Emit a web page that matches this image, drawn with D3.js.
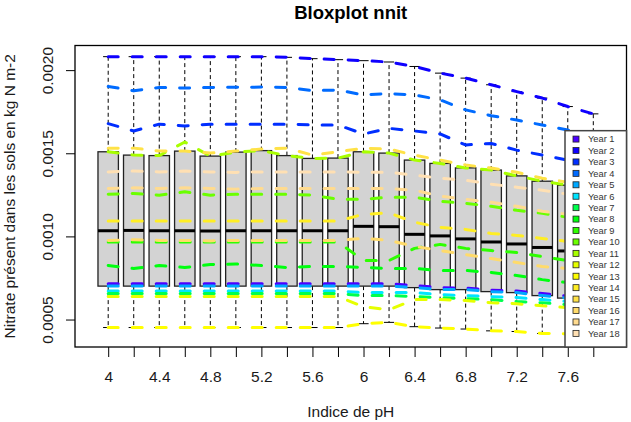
<!DOCTYPE html>
<html>
<head>
<meta charset="utf-8">
<script src="https://cdn.jsdelivr.net/npm/d3@7"></script>
<style>
body { margin: 0; background: #fff; }
text { font-family: "Liberation Sans", Arial, Helvetica, sans-serif; }
</style>
</head>
<body>
<div class="canvas"></div>
<script>
// pH classes (one box per class)
const phLevels = [4, 4.2, 4.4, 4.6, 4.8, 5, 5.2, 5.4, 5.6, 5.8, 6, 6.2, 6.4, 6.6, 6.8, 7, 7.2, 7.4, 7.6, 7.8];

// nitrate in soils (kg N m-2), one value per pH class
const year1  = [0.000716, 0.000716, 0.000716, 0.000716, 0.000716, 0.000716, 0.000716, 0.000716, 0.000716, 0.000716, 0.000716, 0.000716, 0.000704, 0.000692, 0.000689, 0.000677, 0.000671, 0.000656, 0.000641, 0.000626];
const year2  = [0.002081, 0.002081, 0.002081, 0.002081, 0.002081, 0.002081, 0.002081, 0.002077, 0.002069, 0.002063, 0.002057, 0.002049, 0.002022, 0.001982, 0.001952, 0.001912, 0.001871, 0.001832, 0.001781, 0.001737];
const year3  = [0.001678, 0.001634, 0.001675, 0.001664, 0.001675, 0.001675, 0.001675, 0.001675, 0.001670, 0.001670, 0.001616, 0.001650, 0.001634, 0.001616, 0.001550, 0.001559, 0.001519, 0.001489, 0.001459, 0.001429];
const year4  = [0.001902, 0.001876, 0.001896, 0.001892, 0.001896, 0.001897, 0.001898, 0.001896, 0.001877, 0.001880, 0.001851, 0.001859, 0.001851, 0.001821, 0.001761, 0.001726, 0.001700, 0.001670, 0.001640, 0.001610];
const year5  = [0.000701, 0.000701, 0.000701, 0.000701, 0.000701, 0.000701, 0.000701, 0.000701, 0.000701, 0.000701, 0.000701, 0.000701, 0.000692, 0.000680, 0.000680, 0.000668, 0.000662, 0.000644, 0.000629, 0.000614];
const year6  = [0.000671, 0.000671, 0.000671, 0.000671, 0.000671, 0.000671, 0.000671, 0.000671, 0.000671, 0.000671, 0.000662, 0.000662, 0.000662, 0.000650, 0.000644, 0.000638, 0.000632, 0.000620, 0.000608, 0.000595];
const year7  = [0.000656, 0.000656, 0.000656, 0.000656, 0.000656, 0.000656, 0.000656, 0.000656, 0.000656, 0.000656, 0.000644, 0.000644, 0.000638, 0.000632, 0.000626, 0.000620, 0.000608, 0.000601, 0.000589, 0.000577];
const year8  = [0.000825, 0.000807, 0.000825, 0.000813, 0.000831, 0.000834, 0.000825, 0.000813, 0.000819, 0.000819, 0.000813, 0.000807, 0.000807, 0.000795, 0.000795, 0.000783, 0.000765, 0.000740, 0.000722, 0.000704];
const year9  = [0.000966, 0.000966, 0.000966, 0.000966, 0.000966, 0.000966, 0.000966, 0.000966, 0.000966, 0.000966, 0.000855, 0.000855, 0.000928, 0.000952, 0.000928, 0.000915, 0.000903, 0.000879, 0.000855, 0.000837];
const year10 = [0.001254, 0.001258, 0.001248, 0.001268, 0.001248, 0.001254, 0.001254, 0.001254, 0.001248, 0.001223, 0.001223, 0.001236, 0.001236, 0.001211, 0.001199, 0.001181, 0.001157, 0.001139, 0.001115, 0.001097];
const year11 = [0.001509, 0.001489, 0.001486, 0.001568, 0.001483, 0.001507, 0.001516, 0.001486, 0.001469, 0.001471, 0.001509, 0.001501, 0.001459, 0.001439, 0.001412, 0.001399, 0.001364, 0.001332, 0.001308, 0.001290];
const year12 = [0.000638, 0.000638, 0.000638, 0.000638, 0.000638, 0.000638, 0.000638, 0.000638, 0.000638, 0.000638, 0.000577, 0.000559, 0.000620, 0.000620, 0.000614, 0.000601, 0.000595, 0.000583, 0.000571, 0.000559];
const year13 = [0.000452, 0.000452, 0.000452, 0.000452, 0.000452, 0.000452, 0.000452, 0.000452, 0.000452, 0.000452, 0.000475, 0.000483, 0.000457, 0.000449, 0.000443, 0.000432, 0.000428, 0.000416, 0.000414, 0.000402];
const year14 = [0.001092, 0.001092, 0.001092, 0.001092, 0.001092, 0.001092, 0.001092, 0.001092, 0.001092, 0.001092, 0.001133, 0.001141, 0.001085, 0.001054, 0.001042, 0.001018, 0.001006, 0.000988, 0.000970, 0.000952];
const year15 = [0.001530, 0.001531, 0.001513, 0.001513, 0.001501, 0.001513, 0.001525, 0.001531, 0.001489, 0.001509, 0.001530, 0.001525, 0.001489, 0.001459, 0.001429, 0.001411, 0.001386, 0.001350, 0.001326, 0.001302];
const year16 = [0.000976, 0.000980, 0.000976, 0.000976, 0.000973, 0.000976, 0.000976, 0.000976, 0.000976, 0.000976, 0.000988, 0.000976, 0.000940, 0.000915, 0.000891, 0.000867, 0.000843, 0.000819, 0.000807, 0.000789];
const year17 = [0.001288, 0.001292, 0.001288, 0.001292, 0.001288, 0.001284, 0.001288, 0.001288, 0.001288, 0.001288, 0.001288, 0.001288, 0.001278, 0.001242, 0.001223, 0.001205, 0.001181, 0.001151, 0.001133, 0.001115];
const year18 = [0.001388, 0.001393, 0.001388, 0.001393, 0.001388, 0.001385, 0.001388, 0.001388, 0.001388, 0.001388, 0.001386, 0.001386, 0.001368, 0.001350, 0.001338, 0.001314, 0.001296, 0.001278, 0.001254, 0.001236];

const years = [year1, year2, year3, year4, year5, year6, year7, year8, year9,
               year10, year11, year12, year13, year14, year15, year16, year17, year18];
const yearNames = ['Year 1', 'Year 2', 'Year 3', 'Year 4', 'Year 5', 'Year 6', 'Year 7', 'Year 8', 'Year 9',
                   'Year 10', 'Year 11', 'Year 12', 'Year 13', 'Year 14', 'Year 15', 'Year 16', 'Year 17', 'Year 18'];
// topo.colors(18)
const yearColors = ['#4C00FF', '#0F00FF', '#002EFF', '#006BFF', '#00A8FF', '#00E5FF',
                    '#00FF4D', '#00FF0F', '#2EFF00', '#6BFF00', '#A8FF00', '#E6FF00',
                    '#FFFF00', '#FFEE24', '#FFE247', '#FFDB6B', '#FFDB8F', '#FFE0B3'];
const yTicks = [0.0005, 0.0010, 0.0015, 0.0020];

const dims = { width: 631, height: 422 };
const plot = { left: 75, right: 626.5, top: 45.5, bottom: 347 };

const svg = d3.select('.canvas')
    .append('svg')
    .attr('width', dims.width)
    .attr('height', dims.height)
    .style('display', 'block');

svg.append('rect')
    .attr('width', dims.width)
    .attr('height', dims.height)
    .attr('fill', '#fff');

// R style five number summary
const fivenum = (vals) => {
    const s = vals.slice().sort(d3.ascending);
    const n = s.length;
    const n4 = Math.floor((n + 3) / 2) / 2;
    return [1, n4, (n + 1) / 2, n + 1 - n4, n]
        .map(p => 0.5 * (s[Math.floor(p) - 1] + s[Math.ceil(p) - 1]));
};

const stats = phLevels.map((ph, i) => {
    const vals = years.map(s => s[i]);
    const f = fivenum(vals);
    const iqr = f[3] - f[1];
    const inside = vals.filter(v => v >= f[1] - 1.5 * iqr && v <= f[3] + 1.5 * iqr);
    return {
        pos: i + 1,
        lo: d3.min(inside), q1: f[1], med: f[2], q3: f[3], hi: d3.max(inside),
        out: vals.filter(v => !inside.includes(v))
    };
});

// scales, padded 4% like R
const n = phLevels.length;
const xPad = 0.04 * n;
const x = d3.scaleLinear()
    .domain([0.5 - xPad, n + 0.5 + xPad])
    .range([plot.left, plot.right]);

const yMin = d3.min(stats, d => d3.min([d.lo, ...d.out]));
const yMax = d3.max(stats, d => d3.max([d.hi, ...d.out]));
const yPad = 0.04 * (yMax - yMin);
const y = d3.scaleLinear()
    .domain([yMin - yPad, yMax + yPad])
    .range([plot.bottom, plot.top]);

const half = 0.4 * (x(1) - x(0));
const staple = 0.2 * (x(1) - x(0));

// boxes
const boxes = svg.append('g')
    .selectAll('g')
    .data(stats)
    .enter()
    .append('g');

boxes.append('line')
    .attr('x1', d => x(d.pos)).attr('x2', d => x(d.pos))
    .attr('y1', d => y(d.q3)).attr('y2', d => y(d.hi))
    .attr('stroke', '#000').attr('stroke-dasharray', '4,3');
boxes.append('line')
    .attr('x1', d => x(d.pos)).attr('x2', d => x(d.pos))
    .attr('y1', d => y(d.q1)).attr('y2', d => y(d.lo))
    .attr('stroke', '#000').attr('stroke-dasharray', '4,3');
boxes.append('line')
    .attr('x1', d => x(d.pos) - staple).attr('x2', d => x(d.pos) + staple)
    .attr('y1', d => y(d.hi)).attr('y2', d => y(d.hi))
    .attr('stroke', '#000');
boxes.append('line')
    .attr('x1', d => x(d.pos) - staple).attr('x2', d => x(d.pos) + staple)
    .attr('y1', d => y(d.lo)).attr('y2', d => y(d.lo))
    .attr('stroke', '#000');
boxes.append('rect')
    .attr('x', d => x(d.pos) - half)
    .attr('width', half * 2)
    .attr('y', d => y(d.q3))
    .attr('height', d => y(d.q1) - y(d.q3))
    .attr('fill', '#d3d3d3')
    .attr('stroke', '#222')
    .attr('stroke-width', 1.3);
boxes.append('line')
    .attr('x1', d => x(d.pos) - half).attr('x2', d => x(d.pos) + half)
    .attr('y1', d => y(d.med)).attr('y2', d => y(d.med))
    .attr('stroke', '#000').attr('stroke-width', 3);

// one dashed line per year
const line = d3.line()
    .x((d, i) => x(i + 1))
    .y(d => y(d));

svg.append('g')
    .selectAll('path')
    .data(years)
    .enter()
    .append('path')
    .attr('d', line)
    .attr('fill', 'none')
    .attr('stroke', (d, i) => yearColors[i])
    .attr('stroke-width', 3)
    .attr('stroke-dasharray', '10,14')
    .attr('stroke-linecap', 'round')
    .attr('stroke-linejoin', 'round');

// frame
svg.append('rect')
    .attr('x', plot.left).attr('y', plot.top)
    .attr('width', plot.right - plot.left)
    .attr('height', plot.bottom - plot.top)
    .attr('fill', 'none')
    .attr('stroke', '#000')
    .attr('stroke-width', 1.3);

// axes
const xAxis = d3.axisBottom(x)
    .tickValues(d3.range(1, n + 1))
    .tickSize(10)
    .tickFormat((d, i) => i % 2 === 0 ? phLevels[i] : '');

const xg = svg.append('g')
    .attr('transform', `translate(0, ${plot.bottom})`)
    .call(xAxis);
xg.select('.domain').remove();
xg.selectAll('.tick line').attr('stroke', '#000');
xg.selectAll('.tick text')
    .attr('y', 34.5).attr('dy', null)
    .attr('font-size', 15.5).attr('fill', '#1a1a1a');

const yAxis = d3.axisLeft(y)
    .tickValues(yTicks)
    .tickSize(9)
    .tickFormat(d3.format('.4f'));

const yg = svg.append('g')
    .attr('transform', `translate(${plot.left}, 0)`)
    .call(yAxis);
yg.select('.domain').remove();
yg.selectAll('.tick line').attr('stroke', '#000');
yg.selectAll('.tick text')
    .attr('x', 0).attr('y', 0).attr('dy', null)
    .attr('text-anchor', 'middle')
    .attr('transform', 'translate(-22, 0) rotate(-90)')
    .attr('font-size', 15.5).attr('fill', '#1a1a1a');

// titles
const midX = (plot.left + plot.right) / 2;
svg.append('text')
    .attr('x', midX).attr('y', 19)
    .attr('text-anchor', 'middle')
    .attr('font-size', 18.5)
    .attr('font-weight', 'bold')
    .text('Bloxplot nnit');

svg.append('text')
    .attr('x', midX).attr('y', 417)
    .attr('text-anchor', 'middle')
    .attr('font-size', 15.5)
    .attr('fill', '#1a1a1a')
    .text('Indice de pH');

svg.append('text')
    .attr('transform', `translate(15, ${(plot.top + plot.bottom) / 2}) rotate(-90)`)
    .attr('text-anchor', 'middle')
    .attr('font-size', 15.5)
    .attr('fill', '#1a1a1a')
    .text('Nitrate présent dans les sols en kg N m-2');

// legend, bottom right
const leg = { width: 61.5, row: 11.43, padTop: 8.4, padBottom: 5.3 };
const legHeight = leg.padTop + leg.row * (yearNames.length - 1) + leg.padBottom + leg.row / 2 + 2.6;
const legendGroup = svg.append('g')
    .attr('transform', `translate(${plot.right - leg.width}, ${plot.bottom - legHeight})`);

legendGroup.append('rect')
    .attr('width', leg.width)
    .attr('height', legHeight)
    .attr('fill', '#fff')
    .attr('stroke', '#444')
    .attr('stroke-width', 1.5);

const items = legendGroup.selectAll('g')
    .data(yearNames)
    .enter()
    .append('g')
    .attr('transform', (d, i) => `translate(0, ${leg.padTop + i * leg.row})`);

items.append('rect')
    .attr('x', 8).attr('y', -3)
    .attr('width', 6).attr('height', 6)
    .attr('fill', (d, i) => yearColors[i])
    .attr('stroke', '#222')
    .attr('stroke-width', 0.8);

items.append('text')
    .attr('x', 23).attr('y', 3.3)
    .attr('font-size', 9.3)
    .attr('fill', '#333')
    .text(d => d);
</script>
</body>
</html>
